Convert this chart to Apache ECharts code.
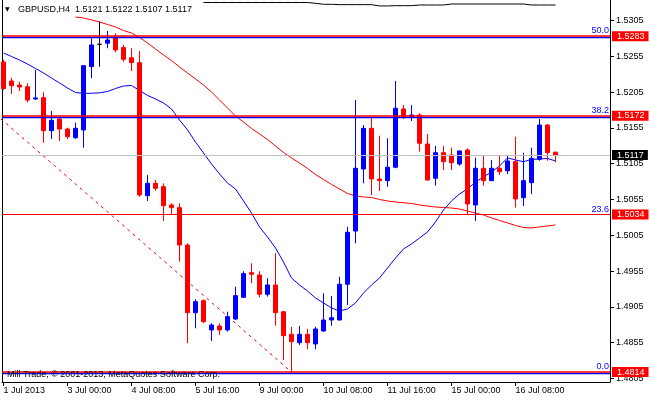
<!DOCTYPE html>
<html><head><meta charset="utf-8">
<script src="https://cdn.jsdelivr.net/npm/echarts@6/dist/echarts.min.js"></script>
<style>html,body{margin:0;padding:0;background:#fff}#c{width:650px;height:400px}</style>
</head><body><div id="c"></div>
<script>
const symbol = 'GBPUSD,H4';
const copyright = 'Mill Trade, \u00a9 2001-2013, MetaQuotes Software Corp.';
const times = [
 '1 Jul 16:00','1 Jul 20:00',
 '2 Jul 00:00','2 Jul 04:00','2 Jul 08:00','2 Jul 12:00','2 Jul 16:00','2 Jul 20:00',
 '3 Jul 00:00','3 Jul 04:00','3 Jul 08:00','3 Jul 12:00','3 Jul 16:00','3 Jul 20:00',
 '4 Jul 00:00','4 Jul 04:00','4 Jul 08:00','4 Jul 12:00','4 Jul 16:00','4 Jul 20:00',
 '5 Jul 00:00','5 Jul 04:00','5 Jul 08:00','5 Jul 12:00','5 Jul 16:00','5 Jul 20:00',
 '8 Jul 00:00','8 Jul 04:00','8 Jul 08:00','8 Jul 12:00','8 Jul 16:00','8 Jul 20:00',
 '9 Jul 00:00','9 Jul 04:00','9 Jul 08:00','9 Jul 12:00','9 Jul 16:00','9 Jul 20:00',
 '10 Jul 00:00','10 Jul 04:00','10 Jul 08:00','10 Jul 12:00','10 Jul 16:00','10 Jul 20:00',
 '11 Jul 00:00','11 Jul 04:00','11 Jul 08:00','11 Jul 12:00','11 Jul 16:00','11 Jul 20:00',
 '12 Jul 00:00','12 Jul 04:00','12 Jul 08:00','12 Jul 12:00','12 Jul 16:00','12 Jul 20:00',
 '15 Jul 00:00','15 Jul 04:00','15 Jul 08:00','15 Jul 12:00','15 Jul 16:00','15 Jul 20:00',
 '16 Jul 00:00','16 Jul 04:00','16 Jul 08:00','16 Jul 12:00','16 Jul 16:00','16 Jul 20:00',
 '17 Jul 00:00','17 Jul 04:00'
];
const opens = [
 1.5247,1.52205,1.52149,1.52125,1.51954,1.51972,1.51511,1.51674,1.51534,1.51413,
 1.51521,1.52405,1.52717,1.52732,1.52824,1.52671,1.52530,1.52461,1.50603,1.50776,
 1.50729,1.50474,1.50436,1.49914,1.48969,1.49137,1.48728,1.48783,1.48728,1.48881,
 1.49184,1.49528,1.49496,1.49226,1.49356,1.48983,1.48667,1.48550,1.48667,1.48532,
 1.48713,1.48867,1.48867,1.49366,1.50110,1.50976,1.51544,1.50836,1.50813,1.51000,
 1.51814,1.51706,1.51730,1.51325,1.50846,1.51204,1.51171,1.51046,1.51241,1.50473,
 1.50986,1.50813,1.50986,1.50952,1.51078,1.50575,1.50785,1.51111,1.51590,1.5121
];
const highs = [
 1.5250,1.52251,1.52195,1.52173,1.52359,1.52047,1.51786,1.51688,1.51553,1.51623,
 1.52428,1.52801,1.53033,1.52903,1.52871,1.52708,1.52662,1.52624,1.50892,1.50822,
 1.50776,1.50497,1.50497,1.49938,1.49156,1.49156,1.48821,1.48821,1.48983,1.49332,
 1.49548,1.49659,1.49548,1.49450,1.49799,1.48983,1.48770,1.48783,1.48741,1.48773,
 1.49240,1.49202,1.49472,1.50170,1.51940,1.51590,1.51706,1.51441,1.51405,1.52205,
 1.51870,1.51870,1.51754,1.51465,1.51297,1.51297,1.51274,1.51235,1.51265,1.51134,
 1.51158,1.51102,1.51158,1.51158,1.51427,1.51204,1.51274,1.51674,1.51604,1.5122
];
const lows = [
 1.5208,1.52023,1.52065,1.51907,1.51940,1.51343,1.51395,1.51367,1.51395,1.51395,
 1.51274,1.52243,1.52405,1.52662,1.52606,1.52475,1.52345,1.50589,1.50529,1.50673,
 1.50250,1.50334,1.49681,1.48542,1.48751,1.48821,1.48574,1.48658,1.48704,1.48867,
 1.49174,1.49380,1.49184,1.49193,1.48787,1.48308,1.48140,1.48518,1.48458,1.48458,
 1.48700,1.48787,1.48860,1.49077,1.49938,1.50776,1.50613,1.50669,1.50729,1.50986,
 1.51674,1.51646,1.51218,1.50813,1.50743,1.50962,1.50962,1.51022,1.50347,1.50250,
 1.50743,1.50813,1.50892,1.50906,1.50436,1.50459,1.50627,1.51092,1.51092,1.5107
];
const closes = [
 1.5210,1.52139,1.52121,1.51939,1.51968,1.51511,1.51656,1.51534,1.51427,1.51544,
 1.52419,1.52708,1.52717,1.52778,1.52638,1.52508,1.52461,1.50613,1.50776,1.50706,
 1.50463,1.50436,1.49914,1.48969,1.49123,1.48844,1.48797,1.48728,1.48914,1.49207,
 1.49515,1.49505,1.49226,1.49356,1.48969,1.48648,1.48564,1.48667,1.48550,1.48741,
 1.48867,1.48899,1.49366,1.50092,1.50986,1.51544,1.50836,1.50813,1.51000,1.51824,
 1.51706,1.51730,1.51335,1.50822,1.51204,1.51078,1.51064,1.51228,1.50487,1.50986,
 1.50813,1.50986,1.50939,1.51088,1.50557,1.50813,1.51125,1.51590,1.51204,1.5117
];
const maBlue = [
 1.52596,1.52547,1.52498,1.52442,1.52380,1.52317,1.52247,1.52177,1.52107,1.52044,
 1.52033,1.52033,1.52040,1.52058,1.52100,1.52135,1.52142,1.52072,1.52003,1.51954,
 1.51898,1.51814,1.51660,1.51521,1.51353,1.51199,1.51046,1.50906,1.50780,1.50697,
 1.50529,1.50361,1.50166,1.50026,1.49873,1.49677,1.49454,1.49356,1.49272,1.49174,
 1.49105,1.49035,1.48993,1.49021,1.49105,1.49244,1.49356,1.49454,1.49593,1.49733,
 1.49859,1.49929,1.50012,1.50096,1.50236,1.50403,1.50529,1.50627,1.50697,1.50794,
 1.50864,1.50934,1.51018,1.51130,1.51102,1.51078,1.51109,1.51116,1.51123,1.51088
];
const maRed = [
 null,null,null,null,null,null,null,null,null,1.53099,
 1.53085,1.53057,1.53029,1.52994,1.52959,1.52910,1.52875,1.52813,1.52736,1.52652,
 1.52568,1.52491,1.52401,1.52317,1.52233,1.52149,1.52051,1.51940,1.51828,1.51716,
 1.51632,1.51542,1.51465,1.51388,1.51297,1.51206,1.51130,1.51060,1.50983,1.50899,
 1.50829,1.50760,1.50697,1.50634,1.50599,1.50585,1.50578,1.50550,1.50529,1.50515,
 1.50505,1.50494,1.50473,1.50459,1.50445,1.50438,1.50431,1.50417,1.50389,1.50361,
 1.50334,1.50292,1.50257,1.50222,1.50187,1.50159,1.50152,1.50166,1.50180,1.50194
];
const maBlack = [
 null,null,null,null,null,null,null,null,null,null,
 null,null,null,null,null,null,null,null,null,null,
 null,null,null,null,null,1.53301,1.53301,1.53301,1.53301,1.53301,
 1.53301,1.53301,1.53301,1.53301,1.53301,1.53301,1.53301,1.53301,1.53301,1.53290,
 1.53276,1.53276,1.53271,1.53271,1.53271,1.53271,1.53271,1.53253,1.53253,1.53257,
 1.53257,1.53257,1.53266,1.53266,1.53266,1.53266,1.53280,1.53280,1.53280,1.53280,
 1.53280,1.53280,1.53280,1.53280,1.53280,1.53280,1.53266,1.53266,1.53266,1.53266
];
const trendIdx = [-1, 36];
const trendPrice = [1.5174, 1.4814];
const hLines = [1.5283, 1.5172, 1.5034, 1.4814];
const fibNames = ['50.0', '38.2', '23.6', '0.0'];
const fibPrices = [1.5283, 1.5172, 1.5034, 1.4814];
const bid = 1.5117;
const yTicks = [1.5305,1.5255,1.5205,1.5155,1.5105,1.5055,1.5005,1.4955,1.4905,1.4855,1.4805];
const xTickTimes = ['1 Jul 16:00','3 Jul 00:00','4 Jul 08:00','5 Jul 16:00','9 Jul 00:00','10 Jul 08:00','11 Jul 16:00','15 Jul 00:00','16 Jul 08:00'];
const xTickLabels = ['1 Jul 2013','3 Jul 00:00','4 Jul 08:00','5 Jul 16:00','9 Jul 00:00','10 Jul 08:00','11 Jul 16:00','15 Jul 00:00','16 Jul 08:00'];

const FONT = 'Liberation Sans';
const xTickIdx = xTickTimes.map(t => times.indexOf(t));
const last = times.length - 1;
const header = symbol + '  ' + [opens[last], highs[last], lows[last], closes[last]].map(v => v.toFixed(4)).join(' ');
const candleData = times.map((t, i) => [i, opens[i], closes[i], lows[i], highs[i]]);
const toXY = arr => arr.map((v, i) => [i, v]);
const yMin = 1.48001, yMax = 1.53336;
// a fib level lying on a red line shows as a blue edge just beneath it
const hasFibPair = v => fibPrices.some((p, k) => p === v && fibNames[k] !== '23.6');

const chart = echarts.init(document.getElementById('c'), null, {renderer: 'canvas'});
chart.setOption({
  animation: false,
  backgroundColor: '#ffffff',
  grid: {left: 2, right: 40, top: 0, bottom: 18, containLabel: false},
  xAxis: {
    type: 'value', min: -0.1875, max: 75.8125,
    axisLine: {show: true, onZero: false, lineStyle: {color: '#000', width: 1}},
    axisTick: {show: true, length: 4, customValues: xTickIdx, lineStyle: {color: '#000'}},
    axisLabel: {customValues: xTickIdx, formatter: v => xTickLabels[xTickIdx.indexOf(Math.round(v))] || '',
      align: 'left', margin: 4, color: '#000', fontSize: 9, fontFamily: FONT},
    splitLine: {show: false}
  },
  yAxis: [{
    type: 'value', position: 'right', min: yMin, max: yMax,
    axisLine: {show: true, onZero: false, lineStyle: {color: '#000', width: 1}},
    axisTick: {show: true, length: 4, customValues: yTicks, lineStyle: {color: '#000'}},
    axisLabel: {customValues: yTicks, formatter: v => v.toFixed(4), margin: 6, color: '#000', fontSize: 9, fontFamily: FONT},
    splitLine: {show: false}
  }, {
    type: 'value', position: 'left', min: yMin, max: yMax,
    axisLine: {show: true, onZero: false, lineStyle: {color: '#000', width: 1}},
    axisTick: {show: false}, axisLabel: {show: false}, splitLine: {show: false}
  }],
  graphic: [
    {type: 'text', left: 5, top: 6, style: {text: '\u25BC', fill: '#000', font: '6px "DejaVu Sans"'}},
    {type: 'text', left: 18, top: 5, style: {text: header, fill: '#000', font: '9px "' + FONT + '"'}},
    {type: 'text', left: 7, top: 370, z: 10, style: {text: copyright, fill: '#000', font: '9px "' + FONT + '"'}}
  ],
  series: [
    {
      type: 'line', name: 'bid', data: [], z: 1, silent: true,
      markLine: {
        symbol: 'none', silent: true, animation: false, precision: 6,
        data: [{yAxis: bid, lineStyle: {color: '#c0c0c0', width: 1, type: 'solid'},
          label: {show: true, position: 'end', distance: 2, formatter: bid.toFixed(4), color: '#fff',
            backgroundColor: '#000', padding: [1, 4, 0, 5], fontSize: 9, fontFamily: FONT}}]
      }
    },
    {
      type: 'line', name: 'trend', data: trendIdx.map((x, k) => [x, trendPrice[k]]), z: 1, symbol: 'none',
      lineStyle: {color: '#ff0000', width: 1, type: [3, 4]}, silent: true
    },
    {
      type: 'line', name: 'maRed', data: toXY(maRed), z: 1, symbol: 'none', connectNulls: false,
      lineStyle: {color: '#ff0000', width: 1}, silent: true
    },
    {
      type: 'line', name: 'maBlue', data: toXY(maBlue), z: 1, symbol: 'none',
      lineStyle: {color: '#0000ff', width: 1}, silent: true
    },
    {
      type: 'line', name: 'maBlack', data: toXY(maBlack), z: 1, symbol: 'none',
      lineStyle: {color: '#000', width: 1}, silent: true
    },
    {
      type: 'line', name: 'fib', data: [], z: 1, silent: true,
      markLine: {
        symbol: 'none', silent: true, animation: false, precision: 6,
        data: fibPrices.map((p, k) => ({
          yAxis: p,
          lineStyle: {color: 'rgba(0,0,255,0)', width: 1, type: 'solid'},
          label: {show: true, position: 'insideEndTop', distance: 1, formatter: fibNames[k], color: '#0000ff',
            fontSize: 9, fontFamily: FONT}
        }))
      }
    },
    {
      type: 'line', name: 'hlines', data: [], z: 2, silent: true,
      markLine: {
        symbol: 'none', silent: true, animation: false, precision: 6,
        data: hLines.map(v => ({
          yAxis: v,
          lineStyle: hasFibPair(v)
            ? {color: '#ff0000', width: 1.5, type: 'solid', shadowColor: '#0000ff', shadowOffsetY: 1.5, shadowBlur: 0}
            : {color: '#ff0000', width: 1.2, type: 'solid'},
          label: {show: true, position: 'end', distance: 2, formatter: v.toFixed(4), color: '#fff',
            backgroundColor: '#ff0000', padding: [1, 4, 0, 5], fontSize: 9, fontFamily: FONT}
        }))
      }
    },
    {
      type: 'candlestick', name: symbol, z: 3,
      dimensions: ['idx', 'open', 'close', 'lowest', 'highest'],
      encode: {x: 'idx', y: ['open', 'close', 'lowest', 'highest']},
      data: candleData, barWidth: 4,
      itemStyle: {color: '#0000ff', color0: '#ff0000', borderColor: '#0000ff', borderColor0: '#ff0000',
        borderColorDoji: '#000000', borderWidth: 1}
    }
  ]
});
</script>
</body></html>
